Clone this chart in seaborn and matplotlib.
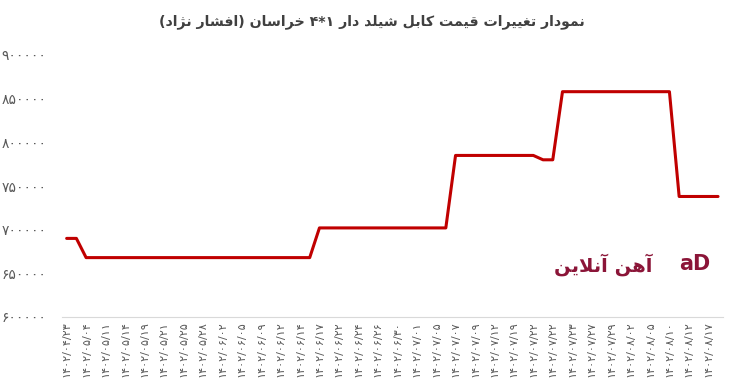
import matplotlib
matplotlib.use("Agg")
import matplotlib.pyplot as plt
import seaborn as sns
import numpy as np
import pandas as pd

# ---------------- data ----------------
title_text = "نمودار تغییرات قیمت کابل شیلد دار ۱*۴ خراسان (افشار نژاد)"
watermark_text = "آهن آنلاین"

tick_dates = [
    "۱۴۰۲/۰۴/۲۳", "۱۴۰۲/۰۵/۰۴", "۱۴۰۲/۰۵/۱۱", "۱۴۰۲/۰۵/۱۴", "۱۴۰۲/۰۵/۱۹",
    "۱۴۰۲/۰۵/۲۱", "۱۴۰۲/۰۵/۲۵", "۱۴۰۲/۰۵/۲۸", "۱۴۰۲/۰۶/۰۲", "۱۴۰۲/۰۶/۰۵",
    "۱۴۰۲/۰۶/۰۹", "۱۴۰۲/۰۶/۱۲", "۱۴۰۲/۰۶/۱۴", "۱۴۰۲/۰۶/۱۷", "۱۴۰۲/۰۶/۲۲",
    "۱۴۰۲/۰۶/۲۴", "۱۴۰۲/۰۶/۲۶", "۱۴۰۲/۰۶/۳۰", "۱۴۰۲/۰۷/۰۱", "۱۴۰۲/۰۷/۰۵",
    "۱۴۰۲/۰۷/۰۷", "۱۴۰۲/۰۷/۰۹", "۱۴۰۲/۰۷/۱۲", "۱۴۰۲/۰۷/۱۹", "۱۴۰۲/۰۷/۲۲",
    "۱۴۰۲/۰۷/۲۲", "۱۴۰۲/۰۷/۲۳", "۱۴۰۲/۰۷/۲۷", "۱۴۰۲/۰۷/۲۹", "۱۴۰۲/۰۸/۰۲",
    "۱۴۰۲/۰۸/۰۵", "۱۴۰۲/۰۸/۱۰", "۱۴۰۲/۰۸/۱۲", "۱۴۰۲/۰۸/۱۷",
]

prices = (
    [690000] * 2 +
    [668000] * 24 +
    [702000] * 14 +
    [785000] * 9 +
    [780000] * 2 +
    [858000] * 12 +
    [738000] * 5
)

ytick_values = [600000, 650000, 700000, 750000, 800000, 850000, 900000]

# ---------------- helpers for Persian text ----------------
FA_DIGITS = str.maketrans("0123456789", "۰۱۲۳۴۵۶۷۸۹")

L = {
    '\u0622': ('\uFE81', '\uFE82', None, None),
    '\u0627': ('\uFE8D', '\uFE8E', None, None),
    '\u0628': ('\uFE8F', '\uFE90', '\uFE91', '\uFE92'),
    '\u062A': ('\uFE95', '\uFE96', '\uFE97', '\uFE98'),
    '\u062E': ('\uFEA5', '\uFEA6', '\uFEA7', '\uFEA8'),
    '\u062F': ('\uFEA9', '\uFEAA', None, None),
    '\u0631': ('\uFEAD', '\uFEAE', None, None),
    '\u0698': ('\uFB8A', '\uFB8B', None, None),
    '\u0633': ('\uFEB1', '\uFEB2', '\uFEB3', '\uFEB4'),
    '\u0634': ('\uFEB5', '\uFEB6', '\uFEB7', '\uFEB8'),
    '\u063A': ('\uFECD', '\uFECE', '\uFECF', '\uFED0'),
    '\u0641': ('\uFED1', '\uFED2', '\uFED3', '\uFED4'),
    '\u0642': ('\uFED5', '\uFED6', '\uFED7', '\uFED8'),
    '\u06A9': ('\uFB8E', '\uFB8F', '\uFB90', '\uFB91'),
    '\u0644': ('\uFEDD', '\uFEDE', '\uFEDF', '\uFEE0'),
    '\u0645': ('\uFEE1', '\uFEE2', '\uFEE3', '\uFEE4'),
    '\u0646': ('\uFEE5', '\uFEE6', '\uFEE7', '\uFEE8'),
    '\u0647': ('\uFEE9', '\uFEEA', '\uFEEB', '\uFEEC'),
    '\u0648': ('\uFEED', '\uFEEE', None, None),
    '\u06CC': ('\uFBFC', '\uFBFD', '\uFBFE', '\uFBFF'),
}


def _dual(ch):
    return ch in L and L[ch][2] is not None


def shape_rtl(s):
    toks = []
    i = 0
    while i < len(s):
        c = s[i]
        if c == '\u0644' and i + 1 < len(s) and s[i + 1] in ('\u0627', '\u0622'):
            toks.append(('LA', s[i + 1]))
            i += 2
        else:
            toks.append((c, None))
            i += 1
    out = []
    for k, (c, x) in enumerate(toks):
        prev = toks[k - 1][0] if k > 0 else None
        nxt = toks[k + 1][0] if k + 1 < len(toks) else None
        jp = prev is not None and _dual(prev)
        if c == 'LA':
            forms = ('\uFEFB', '\uFEFC') if x == '\u0627' else ('\uFEF5', '\uFEF6')
            out.append(forms[1] if jp else forms[0])
            continue
        if c not in L:
            out.append(c)
            continue
        jn = _dual(c) and nxt is not None and (nxt in L or nxt == 'LA')
        iso, fin, ini, med = L[c]
        out.append(med if (jp and jn) else fin if jp else ini if jn else iso)
    vis = ''.join(out)[::-1]
    return vis.translate(str.maketrans('()', ')('))


# ---------------- plot ----------------
sns.set_style("white")
plt.rcParams['font.family'] = ['DejaVu Sans']

W, H = 734, 391
fig = plt.figure(figsize=(W / 100, H / 100), dpi=100)
ax = fig.add_axes([61.8 / W, 1 - 317 / H, (722.9 - 61.8) / W, (317 - 55) / H])

df = pd.DataFrame({"idx": np.arange(len(prices)), "price": prices})
sns.lineplot(data=df, x="idx", y="price", ax=ax, color="#C00000", linewidth=2.2)

ax.set_xlim(-0.5, len(prices) - 0.5)
ax.set_ylim(ytick_values[0], ytick_values[-1])

tick_pos = np.arange(0, 2 * len(tick_dates), 2)
ax.set_xticks(tick_pos)
ax.set_xticklabels(tick_dates, rotation=90, fontsize=8.1, color="#595959")
ax.set_yticks(ytick_values)
ax.set_yticklabels([str(v).translate(FA_DIGITS) for v in ytick_values],
                   fontsize=10, color="#595959")
ax.tick_params(axis='both', length=0)
ax.tick_params(axis='y', pad=11)
ax.tick_params(axis='x', pad=3)
ax.set_xlabel("")
ax.set_ylabel("")
for s in ["top", "right", "left"]:
    ax.spines[s].set_visible(False)
ax.spines["bottom"].set_color("#D9D9D9")
ax.spines["bottom"].set_linewidth(0.8)

fig.text(372 / W, 1 - 22 / H, shape_rtl(title_text), ha="center", va="center",
         fontsize=10.2, fontweight="bold", color="#404040")

fig.text(603 / W, 1 - 265 / H, shape_rtl(watermark_text), ha="center", va="center",
         fontsize=14, fontweight="bold", color="#8B1538")
fig.text(695 / W, 1 - 264 / H, "aD", ha="center", va="center",
         fontsize=15, fontweight="bold", color="#8B1538")

fig.savefig("out.png", dpi=100, facecolor="white")
